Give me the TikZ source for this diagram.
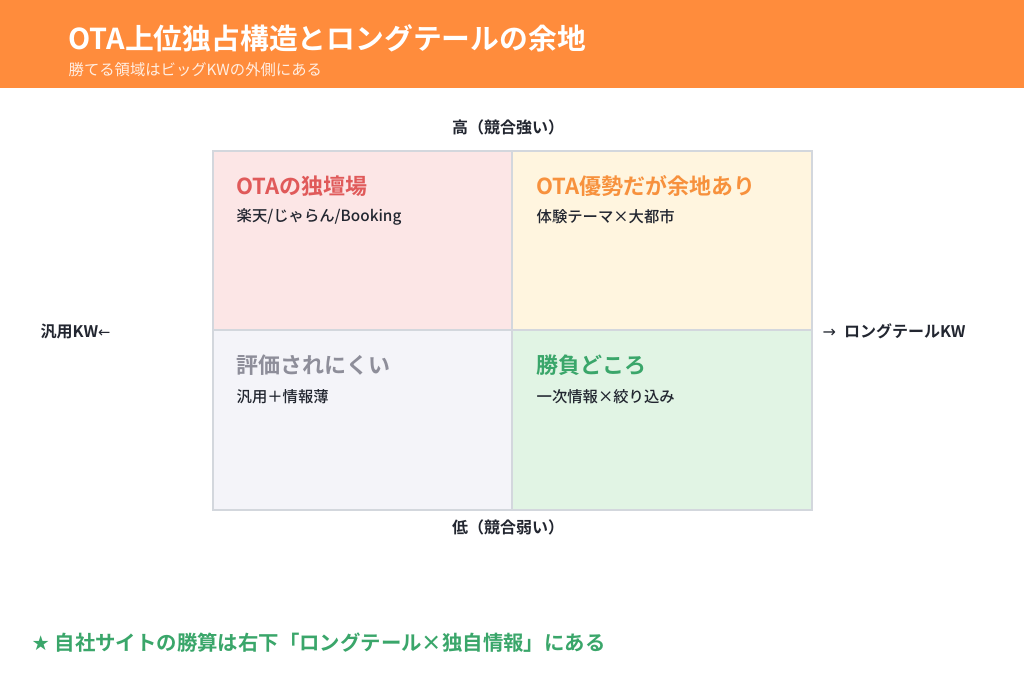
\documentclass[tikz,border=0pt]{standalone}
\usepackage{fontspec}
\setmainfont{Noto Sans CJK JP}
\newfontfamily\jpb{Noto Sans CJK JP Bold}
\newfontfamily\jpm{Noto Sans CJK JP Medium}
\newfontfamily\sym{DejaVu Sans}
\definecolor{hdr}{HTML}{FF8C3C}
\definecolor{cTL}{HTML}{FCE6E6}
\definecolor{cTR}{HTML}{FFF5DF}
\definecolor{cBL}{HTML}{F4F4F9}
\definecolor{cBR}{HTML}{E1F4E4}
\definecolor{bd}{HTML}{D3D7DD}
\definecolor{tred}{HTML}{E05A5A}
\definecolor{tora}{HTML}{F7913D}
\definecolor{tgry}{HTML}{8E8E9A}
\definecolor{tgrn}{HTML}{3AA66A}
\definecolor{ink}{HTML}{222630}
\begin{document}
\begin{tikzpicture}[x=0.75pt,y=-0.75pt,
  cell/.style={draw=bd,line width=1.5pt},
  qtitle/.style={anchor=west,font=\jpb\fontsize{16.5}{18}\selectfont},
  qsub/.style={anchor=west,text=ink,font=\jpm\fontsize{11.5}{13}\selectfont},
  axis/.style={text=ink,font=\jpb\fontsize{12}{14}\selectfont}]
\useasboundingbox (0,0) rectangle (1024,683);
\fill[white] (0,0) rectangle (1024,683);
\fill[hdr] (0,0) rectangle (1024,88);
\node[anchor=west,text=white,font=\jpb\fontsize{21.6}{24}\selectfont] (title) at (64,38) {OTA上位独占構造とロングテールの余地};
\node[anchor=west,text=white!85!hdr,font=\fontsize{11.5}{13}\selectfont] (sub) at (64,70) {勝てる領域はビッグKWの外側にある};
\filldraw[cell,fill=cTL] (213,151) rectangle (512,330);
\filldraw[cell,fill=cTR] (512,151) rectangle (812,330);
\filldraw[cell,fill=cBL] (213,330) rectangle (512,510);
\filldraw[cell,fill=cBR] (512,330) rectangle (812,510);
\node[qtitle,text=tred] (t1) at (232,186) {OTAの独壇場};
\node[qsub] (s1) at (232,217) {楽天/じゃらん/Booking};
\node[qtitle,text=tora] (t2) at (532,186) {OTA優勢だが余地あり};
\node[qsub] (s2) at (532,217) {体験テーマ×大都市};
\node[qtitle,text=tgry] (t3) at (232,365) {評価されにくい};
\node[qsub] (s3) at (232,397) {汎用＋情報薄};
\node[qtitle,text=tgrn] (t4) at (532,365) {勝負どころ};
\node[qsub] (s4) at (532,397) {一次情報×絞り込み};
\node[axis] (hi) at (508,127) {高（競合強い）};
\node[axis] (lo) at (508,527) {低（競合弱い）};
\node[axis,anchor=west] (l) at (36,331) {汎用KW{\sym\fontsize{11}{13}\selectfont ←}};
\node[axis,anchor=west] (r) at (818,331) {{\sym\fontsize{12}{13}\selectfont →}\hspace{0.5em}ロングテールKW};
\node[anchor=west,text=tgrn,font=\jpb\fontsize{15.3}{18}\selectfont] (note) at (27,643) {{\sym ★} 自社サイトの勝算は右下「ロングテール×独自情報」にある};
\end{tikzpicture}
\end{document}
